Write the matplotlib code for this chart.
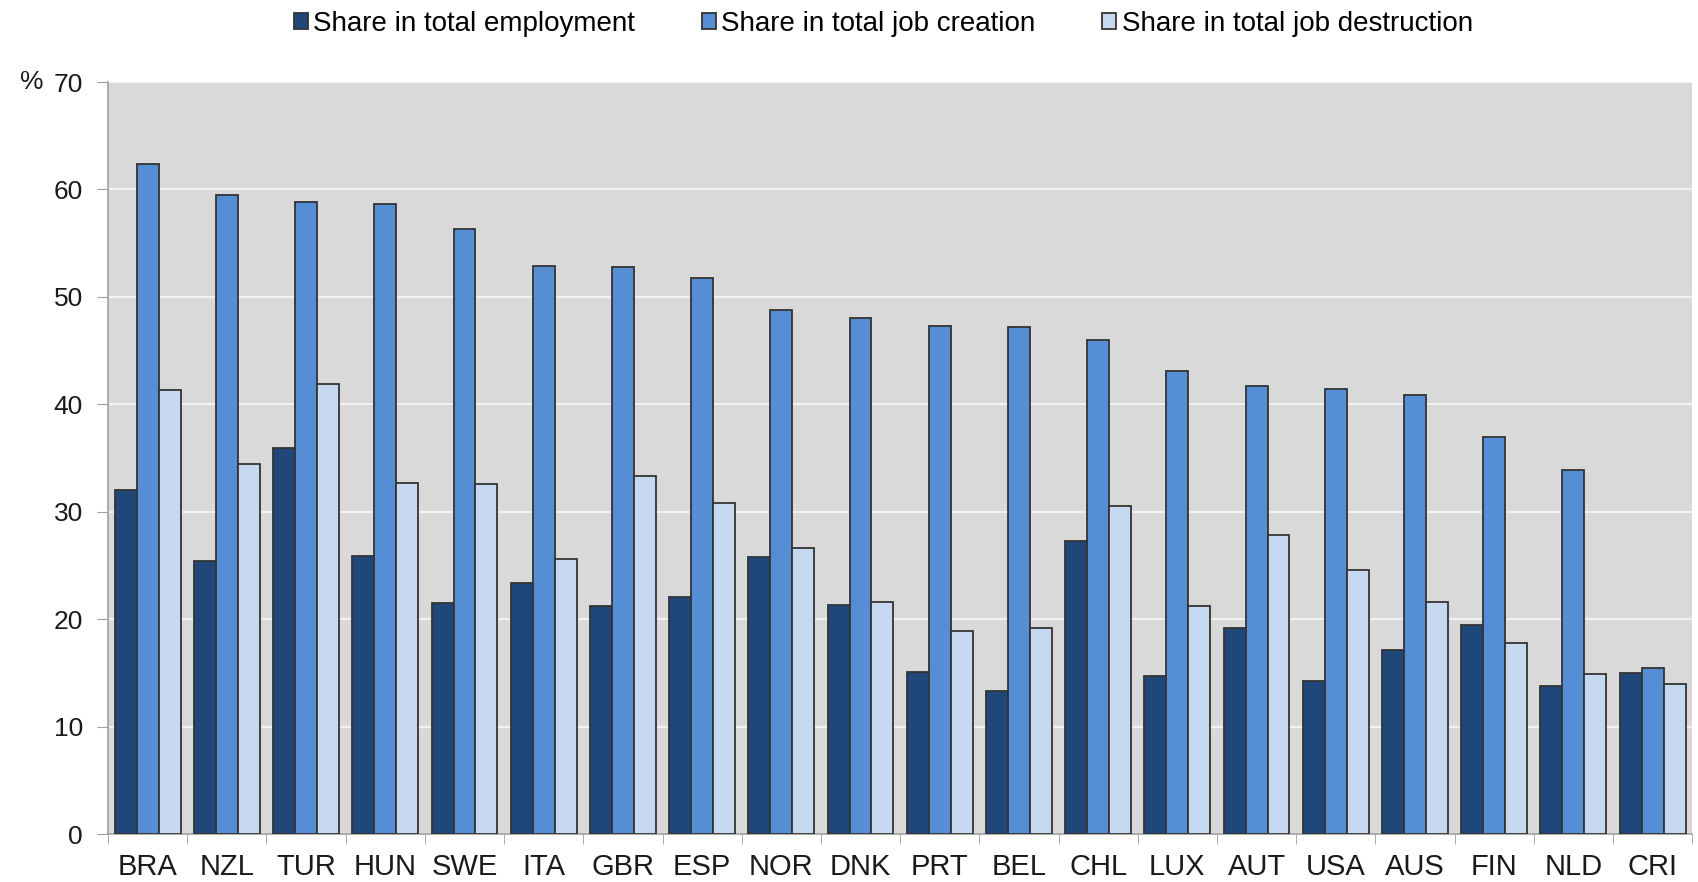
"""Share of young firms in employment, job creation and job destruction, by country."""

import matplotlib
matplotlib.use("Agg")
import matplotlib.pyplot as plt
import numpy as np

plt.rcParams["font.family"] = ["Liberation Sans", "DejaVu Sans"]

countries = ["BRA", "NZL", "TUR", "HUN", "SWE", "ITA", "GBR", "ESP", "NOR", "DNK",
             "PRT", "BEL", "CHL", "LUX", "AUT", "USA", "AUS", "FIN", "NLD", "CRI"]
employment = [32.0, 25.4, 35.9, 25.9, 21.5, 23.4, 21.2, 22.1, 25.8, 21.3,
              15.1, 13.3, 27.3, 14.7, 19.2, 14.2, 17.1, 19.5, 13.8, 15.0]
creation = [62.4, 59.5, 58.8, 58.6, 56.3, 52.9, 52.8, 51.8, 48.8, 48.0,
            47.3, 47.2, 46.0, 43.1, 41.7, 41.4, 40.9, 37.0, 33.9, 15.5]
destruction = [41.3, 34.4, 41.9, 32.7, 32.6, 25.6, 33.3, 30.8, 26.6, 21.6,
               18.9, 19.2, 30.5, 21.2, 27.8, 24.6, 21.6, 17.8, 14.9, 14.0]
series = {
    "Share in total employment": employment,
    "Share in total job creation": creation,
    "Share in total job destruction": destruction,
}
COLORS = ["#1F4779", "#558ED5", "#C6D9F1"]

fig = plt.figure(figsize=(16.99, 8.82), dpi=100)
ax = fig.add_axes([0.0636, 0.0544, 0.9324, 0.8526])
ax.set_facecolor("#D9D9D9")

x = np.arange(len(countries))
w = 0.277
for i, (name, vals) in enumerate(series.items()):
    ax.bar(x + (i - 1) * w, vals, w, color=COLORS[i], edgecolor="#333333",
           linewidth=1.3, label=name, zorder=3)

ax.set_xlim(-0.5, len(countries) - 0.5)
ax.set_ylim(0, 70)
ax.set_yticks(range(0, 71, 10))
ax.yaxis.grid(True, color="#F2F2F2", lw=1.5, zorder=0)
ax.set_axisbelow(True)

# category labels centred, tick marks on boundaries
ax.set_xticks(x)
ax.set_xticklabels(countries, fontsize=21, color="#1A1A1A")
ax.tick_params(axis="x", length=0, pad=14)
ax.set_xticks(np.arange(-0.5, len(countries)), minor=True)
ax.tick_params(axis="x", which="minor", length=7, color="#A0A0A0", direction="out")
ax.tick_params(axis="y", labelsize=19, labelcolor="#1A1A1A", length=8,
               color="#A0A0A0", pad=10)

for s in ["top", "right"]:
    ax.spines[s].set_visible(False)
for s in ["left", "bottom"]:
    ax.spines[s].set_color("#A0A0A0")
    ax.spines[s].set_linewidth(1.2)

fig.text(0.012, 0.907, "%", fontsize=19, color="#1A1A1A", va="center")

fig.legend(loc="center", bbox_to_anchor=(0.52, 0.973), ncol=3, frameon=False,
           fontsize=20, handlelength=0.5, handleheight=0.5, handletextpad=0.2,
           columnspacing=2.4)

fig.savefig("out.png", dpi=100)
